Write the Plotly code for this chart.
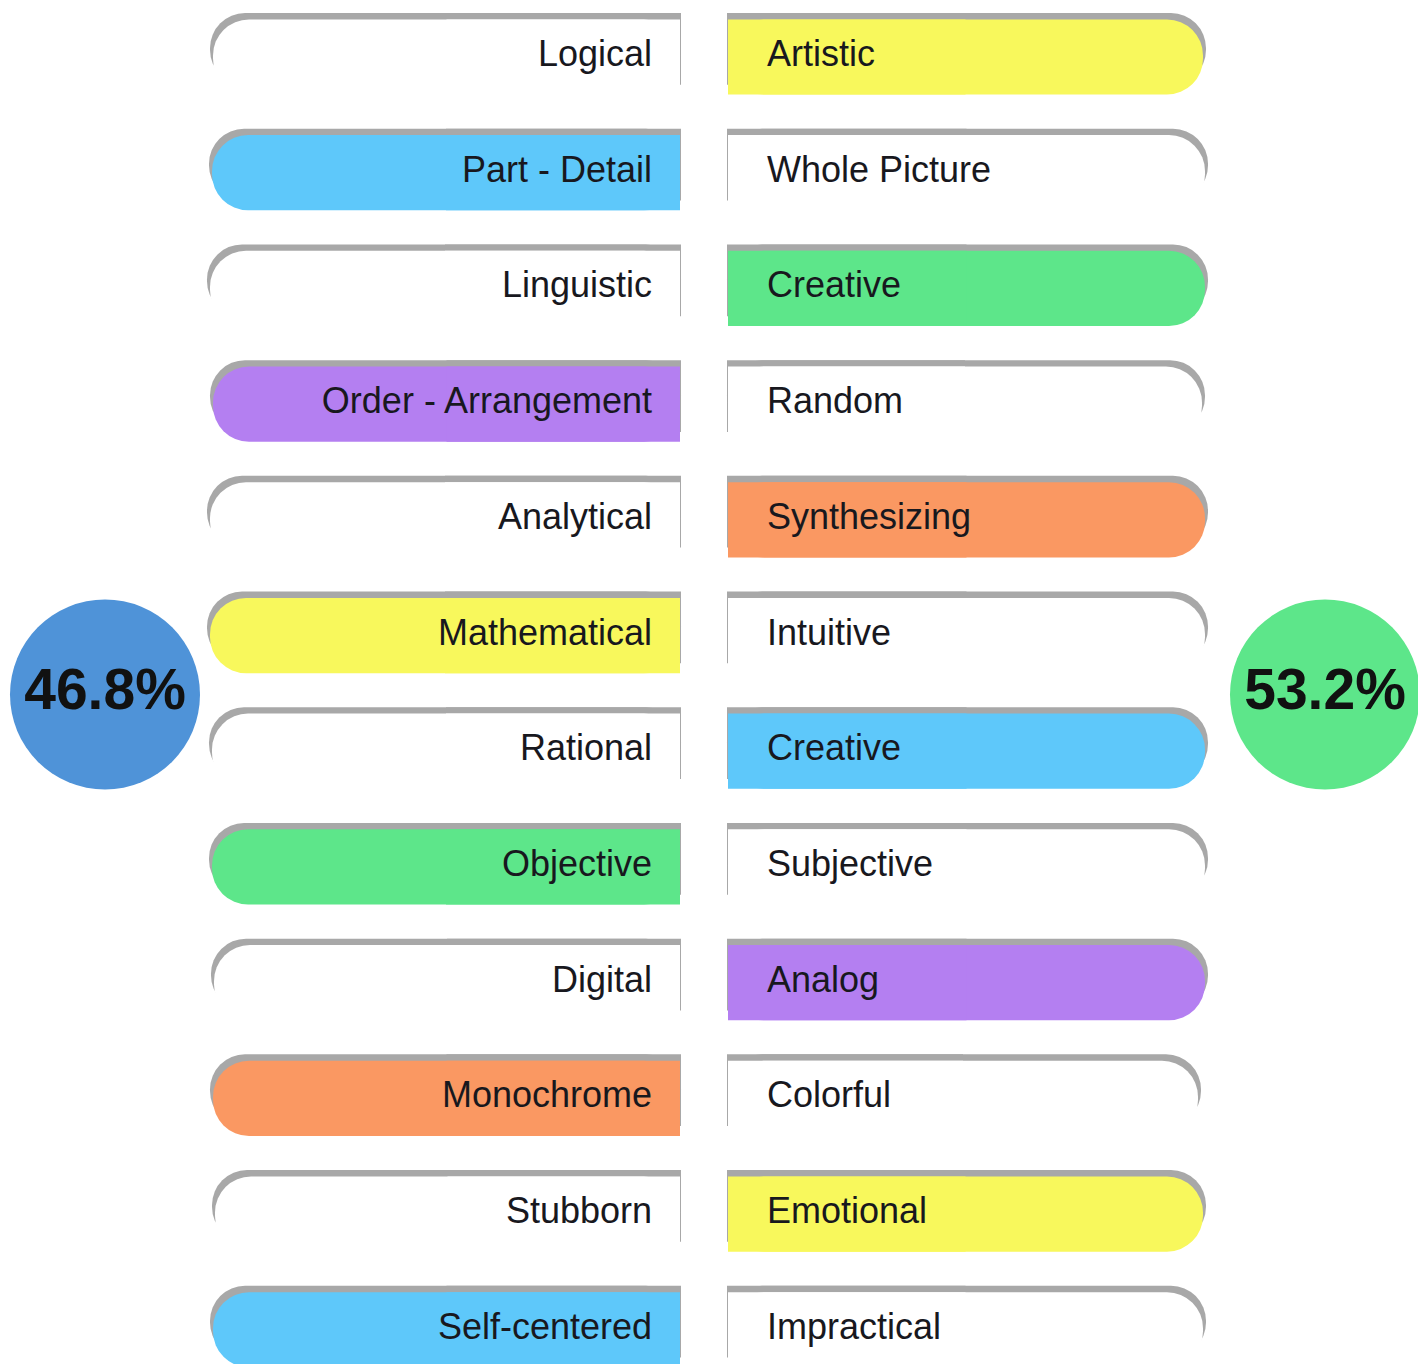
import plotly.graph_objects as go

# ---- data ----
rows = list(range(12))
left_labels = ["Logical", "Part - Detail", "Linguistic", "Order - Arrangement", "Analytical",
               "Mathematical", "Rational", "Objective", "Digital", "Monochrome", "Stubborn",
               "Self-centered"]
right_labels = ["Artistic", "Whole Picture", "Creative", "Random", "Synthesizing", "Intuitive",
                "Creative", "Subjective", "Analog", "Colorful", "Emotional", "Impractical"]
left_lengths = [467, 468, 470, 467, 470, 470, 468, 468, 466, 467, 465, 467]
right_lengths = [475, 477, 477, 474, 477, 477, 477, 477, 477, 470, 475, 475]
shares = [46.8, 53.2]
share_labels = ["46.8%", "53.2%"]

# ---- styles ----
WHITE = "#ffffff"
BLUE = "#5ec8fa"
PURPLE = "#b47ff1"
YELLOW = "#f8f85c"
GREEN = "#5de68a"
ORANGE = "#fa9862"
left_colors = [WHITE, BLUE, WHITE, PURPLE, WHITE, YELLOW, WHITE, GREEN, WHITE, ORANGE, WHITE, BLUE]
right_colors = [YELLOW, WHITE, GREEN, WHITE, ORANGE, WHITE, BLUE, WHITE, PURPLE, WHITE, YELLOW, WHITE]
circle_colors = ["#4f93d8", "#5de68a"]
SHADOW = "#a8a8a8"
FONT = "Liberation Sans, Arial, sans-serif"

gap_left = 23
gap_right = 25
bar_w = 0.65
sh_w = 0.62
sh_off = -bar_w / 2 - 0.055
radius = 36

fig = go.Figure()


def pill(lengths, sign, gap, colors, width, offset, base_extra=0, tip_extra=0):
    """rounded bar plus a square half covering the inner (base) end"""
    base = sign * (gap - base_extra)
    full = [sign * (v + base_extra + tip_extra) for v in lengths]
    half = [sign * (v / 2 + base_extra) for v in lengths]
    fig.add_trace(go.Bar(
        y=rows, x=full, base=base, orientation="h", width=width, offset=offset,
        marker=dict(color=colors, cornerradius=radius, line=dict(width=0)),
        hoverinfo="skip", showlegend=False))
    fig.add_trace(go.Bar(
        y=rows, x=half, base=base, orientation="h", width=width, offset=offset,
        marker=dict(color=colors, cornerradius=0, line=dict(width=0)),
        hoverinfo="skip", showlegend=False))


# shadows (grey rims peeking above each pill)
pill(left_lengths, -1, gap_left, SHADOW, sh_w, sh_off, base_extra=1, tip_extra=3)
pill(right_lengths, 1, gap_right, SHADOW, sh_w, sh_off, base_extra=1, tip_extra=3)
# pills
pill(left_lengths, -1, gap_left, left_colors, bar_w, -bar_w / 2)
pill(right_lengths, 1, gap_right, right_colors, bar_w, -bar_w / 2)

# labels
fig.add_trace(go.Scatter(
    y=rows, x=[-(gap_left + 28)] * len(rows), mode="text", text=left_labels,
    textposition="middle left", textfont=dict(family=FONT, size=36, color="#18181e"),
    hoverinfo="skip", showlegend=False, cliponaxis=False))
fig.add_trace(go.Scatter(
    y=rows, x=[gap_right + 39] * len(rows), mode="text", text=right_labels,
    textposition="middle right", textfont=dict(family=FONT, size=36, color="#18181e"),
    hoverinfo="skip", showlegend=False, cliponaxis=False))

# percentage circles
mid_row = (len(rows) - 1) / 2 + 0.01
fig.add_trace(go.Scatter(
    x=[-598, 622], y=[mid_row, mid_row], mode="markers+text", text=share_labels,
    textposition="middle center",
    textfont=dict(family=FONT, size=57, color="#111111", weight="bold"),
    marker=dict(size=190, color=circle_colors, line=dict(width=0)),
    hoverinfo="skip", showlegend=False, cliponaxis=False))

fig.update_layout(
    width=1418, height=1356,
    margin=dict(l=0, r=0, t=0, b=0),
    paper_bgcolor="white", plot_bgcolor="white",
    barmode="overlay",
    xaxis=dict(range=[-695, 723], visible=False, fixedrange=True),
    yaxis=dict(range=[11.296, -0.4235], visible=False, fixedrange=True),
)

fig.write_html("out.html")
